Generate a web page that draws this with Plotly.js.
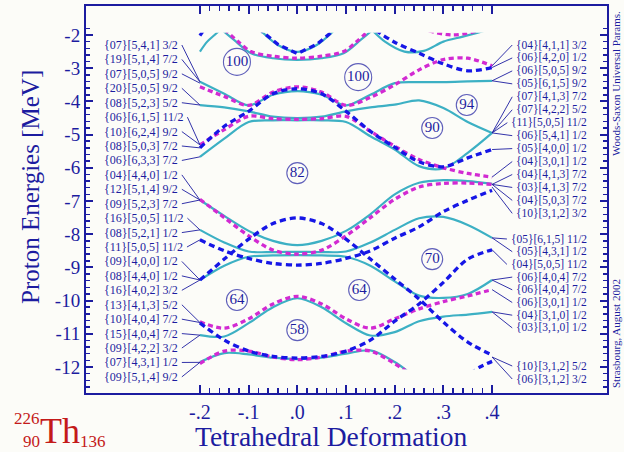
<!DOCTYPE html>
<html><head><meta charset="utf-8">
<script src="https://cdn.plot.ly/plotly-3.0.1.min.js"></script>
<style>html,body{margin:0;padding:0;background:#fcfcf8;}#chart{width:624px;height:452px;}</style>
</head><body><div id="chart"></div>
<script>
// ================= DATA =================
const deformation = [-0.2,-0.15,-0.1,-0.05,0,0.05,0.1,0.15,0.2,0.25,0.3,0.35,0.4];

// cyan (solid) levels on the full grid
const cyanA = [-3.41,-3.77,-4.12,-3.80,-3.69,-3.80,-4.12,-3.80,-3.45,-3.42,-3.42,-3.40,-3.38];
const cyanB = [-4.11,-4.18,-4.30,-4.46,-4.50,-4.46,-4.30,-4.18,-4.10,-3.97,-4.20,-4.62,-4.95];
const cyanC = [-5.67,-5.12,-4.62,-4.57,-4.57,-4.57,-4.62,-5.05,-5.45,-5.95,-6.02,-5.55,-4.95];
const cyanD = [-6.97,-7.45,-7.90,-8.20,-8.33,-8.20,-7.90,-7.40,-6.80,-6.45,-6.37,-6.40,-6.48];
const cyanE = [-7.87,-8.25,-8.52,-8.54,-8.53,-8.54,-8.52,-8.25,-7.87,-7.52,-7.48,-7.72,-8.11];
const cyanF = [-9.38,-8.95,-8.68,-8.64,-8.63,-8.64,-8.68,-8.95,-9.42,-9.85,-9.92,-9.80,-9.38];
const cyanG = [-11.04,-11.08,-10.68,-10.20,-9.93,-10.20,-10.68,-11.05,-10.95,-10.62,-10.48,-10.42,-10.34];
// cyan partial levels (leaving the drawn window)
const cyanTopLeftX = [-0.2,-0.185,-0.17,-0.155];
const cyanTopLeftY = [-2.5,-2.2,-2.0,-1.8];
const cyanVX = [-0.08,-0.04,0,0.04,0.08];
const cyanVY = [-1.8,-2.3,-2.51,-2.3,-1.8];
const cyanArcX = [-0.16,-0.13,-0.095,-0.05,0,0.05,0.095,0.13,0.16];
const cyanArcY = [-1.78,-2.15,-2.55,-2.7,-2.75,-2.7,-2.55,-2.15,-1.78];
const cyanTopRightX = [0.15,0.18,0.22,0.26,0.3,0.34,0.39];
const cyanTopRightY = [-1.8,-2.2,-2.5,-2.48,-2.2,-2.05,-1.85];
const cyanBottomX = [-0.2,-0.15,-0.1,-0.05,0,0.05,0.1,0.15,0.2,0.25];
const cyanBottomY = [-11.85,-11.58,-11.62,-11.72,-11.76,-11.72,-11.6,-11.5,-11.85,-12.4];

// magenta (dashed) levels
const magentaA = [-3.56,-3.85,-4.12,-3.72,-3.56,-3.72,-4.12,-3.88,-3.50,-3.05,-2.74,-2.70,-2.93];
const magentaB = [-5.31,-4.85,-4.45,-4.52,-4.54,-4.52,-4.45,-4.90,-5.35,-5.75,-6.00,-6.17,-6.28];
const magentaC = [-6.95,-7.50,-8.05,-8.48,-8.60,-8.48,-8.05,-7.50,-6.95,-6.58,-6.47,-6.46,-6.50];
const magentaD = [-10.64,-10.83,-10.55,-10.10,-9.87,-10.10,-10.55,-10.83,-10.55,-10.25,-10.03,-9.86,-9.67];
const magentaArcX = [-0.15,-0.12,-0.095,-0.05,0,0.05,0.095,0.12,0.15];
const magentaArcY = [-1.82,-2.22,-2.5,-2.64,-2.7,-2.64,-2.5,-2.22,-1.82];
const magentaBottomX = [-0.2,-0.15,-0.1,-0.05,0,0.05,0.1,0.15,0.2,0.25];
const magentaBottomY = [-11.9,-11.52,-11.52,-11.7,-11.78,-11.7,-11.52,-11.52,-11.9,-12.4];
const magentaTopX = [0.27,0.32,0.37];
const magentaTopY = [-1.88,-2.0,-1.88];

// blue (dashed) levels
const blueA = [-5.40,-4.75,-4.30,-3.77,-3.62,-3.77,-4.30,-4.90,-5.38,-5.82,-5.97,-5.70,-5.45];
const blueB = [-8.17,-8.50,-8.73,-8.88,-8.93,-8.88,-8.73,-8.50,-8.12,-7.78,-7.32,-6.98,-6.68];
const blueC = [-9.38,-8.75,-8.15,-7.68,-7.51,-7.68,-8.15,-8.75,-9.35,-9.95,-10.65,-11.25,-11.64];
const blueD = [-10.67,-11.19,-11.52,-11.68,-11.73,-11.68,-11.52,-11.19,-10.62,-10.10,-9.45,-8.75,-8.47];
const blueTopLeftX = [-0.2,-0.19];
const blueTopLeftY = [-2.02,-1.8];
const blueVX = [-0.08,-0.04,0,0.04,0.08];
const blueVY = [-1.8,-2.28,-2.56,-2.28,-1.8];
const blueTopRightX = [0.16,0.2,0.25,0.3,0.35,0.4];
const blueTopRightY = [-1.85,-2.22,-2.55,-2.87,-3.08,-2.98];
const blueBottomRightX = [0.355,0.375,0.4];
const blueBottomRightY = [-12.2,-12.0,-11.83];

// magic gap numbers
const magicNumbers = ['100','100','94','90','82','70','64','64','58'];
const magicX = [-0.124,0.125,0.348,0.277,0,0.277,-0.124,0.127,0];
const magicY = [-2.81,-3.27,-4.11,-4.80,-6.16,-8.75,-9.98,-9.68,-10.89];

// level labels (left side, at deformation -0.2) and the energy each one points to
const leftLabels = ['{07}[5,4,1] 3/2','{19}[5,1,4] 7/2','{07}[5,0,5] 9/2','{20}[5,0,5] 9/2','{08}[5,2,3] 5/2',
 '{06}[6,1,5] 11/2','{10}[6,2,4] 9/2','{08}[5,0,3] 7/2','{06}[6,3,3] 7/2','{04}[4,4,0] 1/2','{12}[5,1,4] 9/2',
 '{09}[5,2,3] 7/2','{16}[5,0,5] 11/2','{08}[5,2,1] 1/2','{11}[5,0,5] 11/2','{09}[4,0,0] 1/2','{08}[4,4,0] 1/2',
 '{16}[4,0,2] 3/2','{13}[4,1,3] 5/2','{10}[4,0,4] 7/2','{15}[4,0,4] 7/2','{09}[4,2,2] 3/2','{07}[4,3,1] 1/2','{09}[5,1,4] 9/2'];
const leftEnds = [-3.41,-3.41,-3.45,-4.11,-4.11,-5.31,-5.31,-5.40,-5.67,-6.97,-6.97,-6.97,-7.87,-7.87,-8.17,
 -9.38,-9.38,-9.38,-10.66,-10.66,-11.04,-11.04,-11.86,-11.86];
// level labels (right side, at deformation 0.4)
const rightLabels = ['{04}[4,1,1] 3/2','{06}[4,2,0] 1/2','{06}[5,0,5] 9/2','{05}[6,1,5] 9/2','{07}[4,1,3] 7/2',
 '{07}[4,2,2] 5/2','{11}[5,0,5] 11/2','{06}[5,4,1] 1/2','{05}[4,0,0] 1/2','{04}[3,0,1] 1/2','{04}[4,1,3] 7/2',
 '{03}[4,1,3] 7/2','{04}[5,0,3] 7/2','{10}[3,1,2] 3/2','{05}[6,1,5] 11/2','{05}[4,3,1] 1/2','{04}[5,0,5] 11/2',
 '{06}[4,0,4] 7/2','{06}[4,0,4] 7/2','{06}[3,0,1] 1/2','{04}[3,1,0] 1/2','{03}[3,1,0] 1/2','{10}[3,1,2] 5/2','{06}[3,1,2] 3/2'];
const rightEnds = [-2.93,-2.98,-3.38,-3.38,-4.95,-4.95,-4.95,-4.95,-5.45,-6.28,-6.50,-6.50,-6.50,-6.58,
 -8.11,-8.11,-8.47,-9.38,-9.38,-9.67,-10.34,-10.34,-11.70,-11.70];

const xTickVals = [-0.2,-0.1,0,0.1,0.2,0.3,0.4];
const xTickText = ['-.2','-.1','.0','.1','.2','.3','.4'];
const yTickVals = [-12,-11,-10,-9,-8,-7,-6,-5,-4,-3,-2];

// ================= STYLE / LAYOUT =================
const FONT = 'Liberation Serif';
const NAVY = '#1c1ca0';
const BG = '#fcfcf8';
const CYAN = '#3cb0c4', MAGENTA = '#d22ad2', BLUE = '#1616e6';
const W = 624, H = 452, L = 86, R = 17, T = 6, B = 59;
const plotW = W - L - R, plotH = H - T - B;
const xr = [-0.434, 0.636], yr = [-12.783, -1.127];
const clip = [-12.07, -1.93];
const px2x = p => xr[0] + (p - L) / plotW * (xr[1] - xr[0]);
const py2y = p => yr[1] - (p - T) / plotH * (yr[1] - yr[0]);
const pxPaper = p => (p - L) / plotW;
const pyPaper = p => (H - B - p) / plotH;
const yFrac = v => (v - yr[0]) / (yr[1] - yr[0]);

const xMinor = [], yMinor = [];
for (let i = -10; i <= 20; i++) { if (i % 5 !== 0) xMinor.push(i / 50); }
for (let i = -63; i <= -9; i++) { if (i % 5 !== 0) yMinor.push(i / 5); }

const traces = [];
function level(x, y, color, dashed, shape) {
  traces.push({x: x, y: y, xaxis: 'x2', yaxis: 'y2', type: 'scatter', mode: 'lines', hoverinfo: 'skip',
    line: {color: color, width: dashed ? 3.3 : 2.2, dash: dashed ? (color === BLUE ? '6px,4px' : '5px,3.5px') : 'solid',
      shape: shape || 'spline', smoothing: 0.9}});
}
[cyanA, cyanB, cyanC, cyanD, cyanE, cyanF, cyanG].forEach(y => level(deformation, y, CYAN, false));
level(cyanTopLeftX, cyanTopLeftY, CYAN, false);
level(cyanVX, cyanVY, CYAN, false);
level(cyanArcX, cyanArcY, CYAN, false);
level(cyanTopRightX, cyanTopRightY, CYAN, false);
level(cyanBottomX, cyanBottomY, CYAN, false);
[magentaA, magentaB, magentaC, magentaD].forEach(y => level(deformation, y, MAGENTA, true));
level(magentaArcX, magentaArcY, MAGENTA, true);
level(magentaBottomX, magentaBottomY, MAGENTA, true);
level(magentaTopX, magentaTopY, MAGENTA, true);
[blueA, blueB, blueC, blueD].forEach(y => level(deformation, y, BLUE, true));
level(blueTopLeftX, blueTopLeftY, BLUE, true, 'linear');
level(blueVX, blueVY, BLUE, true, 'linear');
level(blueTopRightX, blueTopRightY, BLUE, true);
level(blueBottomRightX, blueBottomRightY, BLUE, true);

traces.push({x: magicX, y: magicY, text: magicNumbers, type: 'scatter', mode: 'markers+text', hoverinfo: 'skip',
  textposition: 'middle center', textfont: {family: FONT, size: 15, color: NAVY},
  marker: {symbol: 'circle-open', size: magicNumbers.map(t => t.length > 2 ? 27 : 21), color: NAVY, line: {width: 1.1, color: NAVY}}});

const ctx = document.createElement('canvas').getContext('2d');
function textW(t, size) { ctx.font = size + 'px "' + FONT + '"'; return ctx.measureText(t).width; }

const annotations = [];
const LBL = 12, RLBL = 11.5, PADB = 3;
leftLabels.forEach((t, i) => {
  const w = textW(t, LBL);
  annotations.push({xref: 'x', yref: 'y', axref: 'x', ayref: 'y', x: deformation[0], y: leftEnds[i],
    ax: px2x(102 + w + 2 * PADB), ay: py2y(45 + 14.43 * i), text: t, showarrow: true, arrowhead: 0,
    arrowwidth: 0.9, arrowcolor: NAVY, xanchor: 'right', yanchor: 'middle', borderpad: PADB, standoff: 0,
    font: {family: FONT, size: LBL, color: NAVY}});
});
const rightRows = [];
for (let i = 0; i < 14; i++) rightRows.push(45 + 12.95 * i);
for (let i = 0; i < 8; i++) rightRows.push(239 + 12.7 * i);
for (let i = 0; i < 2; i++) rightRows.push(366 + 13 * i);
rightLabels.forEach((t, i) => {
  const w = textW(t, RLBL);
  annotations.push({xref: 'x', yref: 'y', axref: 'x', ayref: 'y', x: deformation[deformation.length - 1], y: rightEnds[i],
    ax: px2x(589 - w - 2 * PADB), ay: py2y(rightRows[i]), text: t, showarrow: true, arrowhead: 0,
    arrowwidth: 0.9, arrowcolor: NAVY, xanchor: 'left', yanchor: 'middle', borderpad: PADB, standoff: 0,
    font: {family: FONT, size: RLBL, color: NAVY}});
});
function note(text, px, py, size, color, angle) {
  annotations.push({xref: 'paper', yref: 'paper', x: pxPaper(px), y: pyPaper(py), text: text, showarrow: false,
    xanchor: 'center', yanchor: 'middle', textangle: angle || 0, font: {family: FONT, size: size, color: color}});
}
note('Tetrahedral Deformation', 331, 436, 27.5, NAVY);
note('Proton Energies [MeV]', 30, 187, 25, NAVY, -90);
note('Woods-Saxon Universal Params.', 616, 84, 11, NAVY, -90);
note('Strasbourg, August 2002', 616, 334, 11, NAVY, -90);
const RED = '#c41a1a';
note('226', 27, 418, 17, RED);
note('90', 31, 441, 17, RED);
note('Th', 60, 431, 36, RED);
note('136', 93, 441, 17, RED);

const axisCommon = {showline: true, linecolor: NAVY, linewidth: 2, mirror: 'ticks', ticks: 'inside',
  tickcolor: NAVY, showgrid: false, zeroline: false, fixedrange: true, tickmode: 'array'};
const layout = {
  width: W, height: H, margin: {l: L, r: R, t: T, b: B, pad: 0},
  paper_bgcolor: BG, plot_bgcolor: 'rgba(0,0,0,0)', showlegend: false,
  font: {family: FONT, color: NAVY},
  xaxis: Object.assign({}, axisCommon, {range: xr, domain: [0, 1], anchor: 'y', tickvals: xTickVals, ticktext: xTickText,
    ticklen: 8, tickwidth: 2, tickfont: {family: FONT, size: 20, color: NAVY},
    minor: {tickmode: 'array', tickvals: xMinor, ticks: 'inside', ticklen: 5, tickwidth: 1.5, tickcolor: NAVY, showgrid: false}}),
  yaxis: Object.assign({}, axisCommon, {range: yr, domain: [0, 1], anchor: 'x', tickvals: yTickVals,
    ticktext: yTickVals.map(String), ticklen: 7, tickwidth: 2, tickfont: {family: FONT, size: 19, color: NAVY},
    minor: {tickmode: 'array', tickvals: yMinor, ticks: 'inside', ticklen: 4, tickwidth: 1.5, tickcolor: NAVY, showgrid: false}}),
  xaxis2: {range: xr, domain: [0, 1], anchor: 'y2', visible: false, fixedrange: true},
  yaxis2: {range: clip, domain: [yFrac(clip[0]), yFrac(clip[1])], anchor: 'x2', visible: false, fixedrange: true},
  annotations: annotations
};
Plotly.newPlot('chart', traces, layout, {staticPlot: true, displayModeBar: false});
</script>
</body></html>
